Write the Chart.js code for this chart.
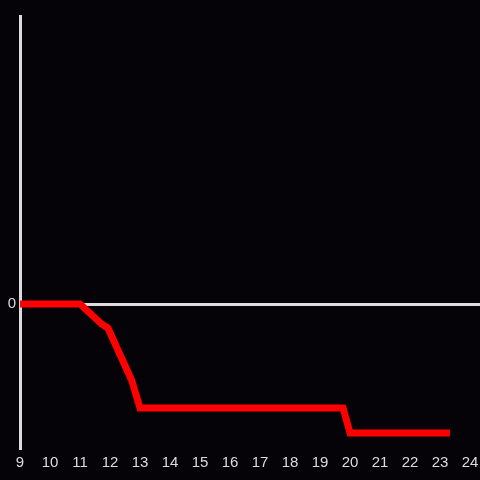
<!DOCTYPE html>
<html>
<head>
<meta charset="utf-8">
<script src="https://cdn.jsdelivr.net/npm/chart.js@4/dist/chart.umd.min.js"></script>
<style>
  html, body { margin: 0; padding: 0; background: #050307; }
  #wrap { width: 480px; height: 480px; }
</style>
</head>
<body>
<div id="wrap"><canvas id="chart"></canvas></div>
<script>
// hour of day (x) and value (y)
const hours = [9, 11, 11.72, 11.93, 12.72, 13, 19.77, 20, 23.33];
const values = [0, 0, -20, -24, -76, -104, -104, -129, -129];
const xMin = 9;
const xMax = 24.333;
const yMin = -144;
const yMax = 288;
const yTicks = [0];

const axisColor = '#dcdcdc';

const bgFill = {
  id: 'bgFill',
  beforeDraw: (chart) => {
    const { ctx, width, height } = chart;
    ctx.save();
    ctx.fillStyle = '#050307';
    ctx.fillRect(0, 0, width, height);
    ctx.restore();
  }
};

new Chart(document.getElementById('chart'), {
  type: 'line',
  data: {
    datasets: [{
      data: hours.map((h, i) => ({ x: h, y: values[i] })),
      borderColor: '#ff0000',
      borderWidth: 7,
      pointRadius: 0,
      tension: 0,
      fill: false
    }]
  },
  options: {
    responsive: true,
    maintainAspectRatio: false,
    animation: false,
    layout: { padding: { top: 16, right: 0, left: 0, bottom: 0 } },
    plugins: {
      legend: { display: false },
      tooltip: { enabled: false }
    },
    scales: {
      x: {
        type: 'linear',
        min: xMin,
        max: xMax,
        afterFit: (axis) => {
          axis.height = 32;
          axis.paddingLeft = 0;
          axis.paddingRight = 0;
        },
        afterBuildTicks: (axis) => {
          const t = [];
          for (let h = 9; h <= 24; h++) t.push({ value: h });
          axis.ticks = t;
        },
        grid: { display: false, drawTicks: false },
        border: { display: false },
        ticks: {
          color: axisColor,
          padding: 6,
          maxRotation: 0,
          autoSkip: false,
          font: { family: 'Liberation Sans, Arial, sans-serif', size: 15 }
        }
      },
      y: {
        min: yMin,
        max: yMax,
        afterFit: (axis) => {
          axis.width = 20;
          axis.paddingTop = 0;
          axis.paddingBottom = 0;
        },
        afterBuildTicks: (axis) => {
          axis.ticks = yTicks.map(v => ({ value: v }));
        },
        grid: {
          drawTicks: false,
          lineWidth: 3,
          color: (c) => (c.tick && c.tick.value === 0 ? axisColor : 'rgba(0,0,0,0)')
        },
        border: { display: true, color: axisColor, width: 3 },
        ticks: {
          color: axisColor,
          padding: 4,
          font: { family: 'Liberation Sans, Arial, sans-serif', size: 15 }
        }
      }
    }
  },
  plugins: [bgFill]
});
</script>
</body>
</html>
